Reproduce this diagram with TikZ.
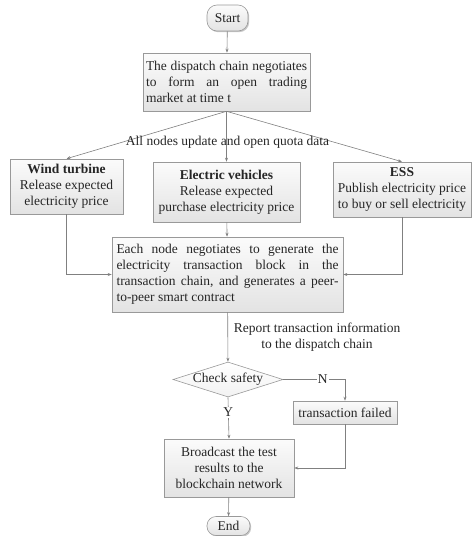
\documentclass[tikz,border=0pt]{standalone}
\usepackage{fontspec}
\setmainfont{Liberation Serif}
\usetikzlibrary{arrows.meta,shapes.geometric,shadows}
\newcommand{\fsz}{\fontsize{13.5}{16}\selectfont}
\tikzset{
  box/.style={draw=black!40, line width=0.6pt, top color=gray!3, bottom color=gray!22,
    drop shadow={shadow xshift=1.2pt, shadow yshift=-1.2pt, fill=black, opacity=0.22},
    text=black!85, inner sep=0pt, font=\fsz, align=center},
  term/.style={box, rounded corners=10pt},
  chkshape/.style={diamond, draw=black!40, line width=0.6pt, top color=white, bottom color=gray!10,
    text=black!85, inner sep=0pt, font=\fsz, minimum width=110pt, minimum height=35pt},
  arr/.style={draw=black!50, line width=0.6pt, -{Stealth[length=4pt,width=3pt]}},
  lbl/.style={text=black!85, font=\fsz, align=center, inner sep=1pt},
  lblbg/.style={lbl, fill=white}
}
\begin{document}
\begin{tikzpicture}[x=1pt,y=-1pt]
\useasboundingbox (0,0) rectangle (473,536);
\node[term, minimum width=41pt, minimum height=26pt] (start) at (227.5,18) {Start};
\node[box, minimum width=167pt, minimum height=58pt, text width=161pt, align=justify] (b1) at (226.5,82)
  {The dispatch chain negotiates\linebreak to form an open trading\linebreak market at time t};
\node[box, minimum width=113pt, minimum height=55pt] (wind) at (66.5,186.5)
  {\textbf{Wind turbine}\\Release expected\\electricity price};
\node[box, minimum width=147pt, minimum height=60pt] (ev) at (226.5,192)
  {\textbf{Electric vehicles}\\Release expected\\purchase electricity price};
\node[box, minimum width=138pt, minimum height=55pt] (ess) at (402,189.5)
  {\textbf{ESS}\\Publish electricity price\\to buy or sell electricity};
\node[box, minimum width=231pt, minimum height=75pt, text width=222pt, align=justify] (each) at (227.5,274.5)
  {Each node negotiates to generate the\linebreak electricity transaction block in the\linebreak transaction chain, and generates a peer-\linebreak to-peer smart contract};
\node[chkshape] (chk) at (228,379.5) {\makebox[0pt]{Check safety}};
\node[box, minimum width=104pt, minimum height=23pt] (fail) at (345,412.5) {transaction failed};
\node[box, minimum width=130pt, minimum height=58pt] (brd) at (229,468)
  {Broadcast the test\\results to the\\blockchain network};
\node[term, minimum width=43pt, minimum height=19pt, rounded corners=9pt] (end) at (228.5,526) {End};

\draw[arr] (start) -- (b1);
\draw[arr] (b1.south) -- (wind.north);
\draw[arr] (b1.south) -- (ev.north);
\draw[arr] (b1.south) -- (ess.north);
\node[lbl] (alln) at (227.5,142) {All nodes update and open quota data};
\draw[arr] (wind.south) |- (each.west);
\draw[arr] (ess.south) |- (each.east);
\draw[arr] (ev) -- (each);
\draw[arr] (each) -- (chk);
\node[lbl] (rep) at (317,337) {Report transaction information\\to the dispatch chain};
\draw[arr] (chk.east) -| node[lblbg, pos=0.32] {N} (fail.north);
\draw[arr] (chk.south) -- node[lblbg, pos=0.36] {Y} (brd.north);
\draw[arr] (fail.south) |- (brd.east);
\draw[arr] (brd) -- (end);
\end{tikzpicture}
\end{document}
